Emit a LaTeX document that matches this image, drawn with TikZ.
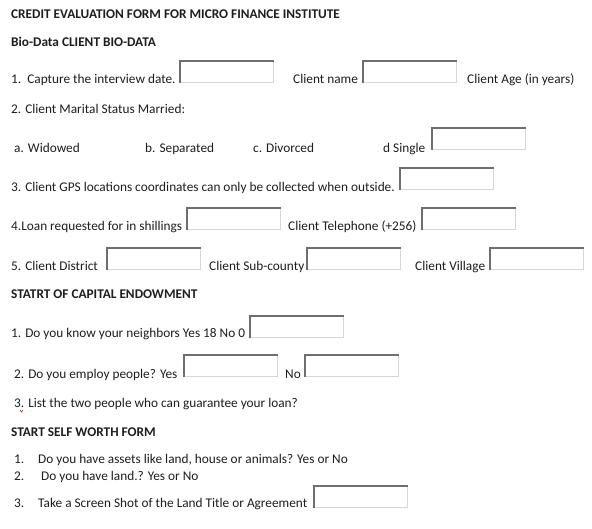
\documentclass[tikz,border=0pt]{standalone}
\usepackage{fontspec}
\setmainfont{Carlito}
\definecolor{txt}{HTML}{1E1E1E}
\definecolor{boxdark}{HTML}{6E6E6E}
\definecolor{boxlight}{HTML}{D6D6D6}
\definecolor{squig}{HTML}{D02020}
\begin{document}
\begin{tikzpicture}[x=1pt,y=-1pt,
  lbl/.style={anchor=base west, inner sep=0pt, text=txt, font=\fontsize{13.3}{15}\selectfont},
  hd/.style={lbl, font=\fontsize{13.3}{15}\selectfont\bfseries},
  field/.style={anchor=north west, draw=boxlight, line width=0.9pt, fill=white, minimum width=93pt, minimum height=21pt, inner sep=0pt},
  fieldedge/.style={draw=boxdark, line width=1.4pt}]
\useasboundingbox[fill=white] (0,0) rectangle (592,528);

% headings
\node[hd] (title) at (11,18) {CREDIT EVALUATION FORM FOR MICRO FINANCE INSTITUTE};
\node[hd] (bio) at (11,46) {Bio-Data CLIENT BIO-DATA};

% row 1
\node[lbl] (q1) at (11,83) {1.\ \ Capture the interview date.};
\node[field] (f1) at (180,61) {};
\node[lbl] (cname) at (293,83) {Client name};
\node[field] (f2) at (363,61) {};
\node[lbl] (cage) at (467,83) {Client Age (in years)};

% row 2
\node[lbl] (q2) at (11,113) {2. Client Marital Status Married:};
\node[lbl] (wid) at (14,152) {a. Widowed};
\node[lbl] (sep) at (145,152) {b. Separated};
\node[lbl] (div) at (253,152) {c. Divorced};
\node[lbl] (sing) at (383,152) {d Single};
\node[field] (f3) at (432,128) {};

% row 3
\node[lbl] (q3) at (11,191) {3. Client GPS locations coordinates can only be collected when outside.};
\node[field] (f4) at (400,168) {};

% row 4
\node[lbl] (q4) at (11,230) {4.Loan requested for in shillings};
\node[field] (f5) at (187,208) {};
\node[lbl] (tel) at (288,230) {Client Telephone (+256)};
\node[field] (f6) at (422,208) {};

% row 5
\node[lbl] (q5) at (11,270) {5. Client District};
\node[field] (f7) at (107,248) {};
\node[lbl] (sub) at (209,270) {Client Sub-county};
\node[field] (f8) at (307,248) {};
\node[lbl] (vil) at (415,270) {Client Village};
\node[field] (f9) at (490,248) {};

% capital endowment
\node[hd] (cap) at (11,298) {STATRT OF CAPITAL ENDOWMENT};
\node[lbl] (c1) at (11,337) {1. Do you know your neighbors Yes 18 No 0};
\node[field] (f10) at (250,316) {};
\node[lbl] (c2) at (14,378) {2. Do you employ people? Yes};
\node[field] (f11) at (184,355) {};
\node[lbl] (cno) at (285,378) {No};
\node[field] (f12) at (305,355) {};
\node[lbl] (c3) at (14,407) {3. List the two people who can guarantee your loan?};
\draw[squig, line width=0.6pt] (20,410) -- (21.5,412) -- (23,410);

% self worth
\node[hd] (self) at (11,436) {START SELF WORTH FORM};
\node[lbl] (s1n) at (14,463) {1.};
\node[lbl] (s1) at (38,463) {Do you have assets like land, house or animals? Yes or No};
\node[lbl] (s2n) at (14,480) {2.};
\node[lbl] (s2) at (41,480) {Do you have land.? Yes or No};
\node[lbl] (s3n) at (14,507) {3.};
\node[lbl] (s3) at (38,507) {Take a Screen Shot of the Land Title or Agreement};
\node[field] (f13) at (314,486) {};

% sunken edges of the fields
\foreach \f in {f1,f2,f3,f4,f5,f6,f7,f8,f9,f10,f11,f12,f13}{
  \draw[fieldedge] (\f.south west) -- (\f.north west) -- (\f.north east);
}
\end{tikzpicture}
\end{document}
